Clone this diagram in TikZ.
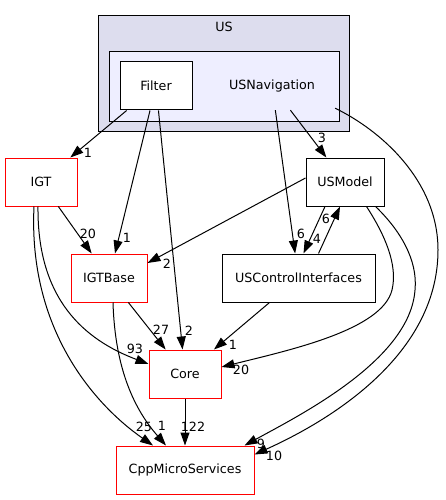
\documentclass[tikz,border=0pt]{standalone}
\usepackage{fontspec}
\setmainfont{DejaVu Sans}
\usepackage{xcolor}
\definecolor{usouter}{HTML}{DDDDEE}
\definecolor{usinner}{HTML}{EEEEFF}
\usetikzlibrary{arrows.meta}

\begin{document}
\begin{tikzpicture}[x=1pt, y=-1pt,
  every node/.style={font=\fontsize{12.7}{15}\selectfont},
  dirbox/.style={draw, fill=white, minimum height=48pt, inner sep=0pt, line width=1pt},
  reddir/.style={dirbox, draw=red},
  dep/.style={-{Triangle[length=13pt,width=9pt]}, line width=1pt},
  num/.style={inner sep=0pt}]
  \useasboundingbox (0,0) rectangle (446,500);

  % US and its subdirectories
  \draw[fill=usouter, line width=1pt] (98,16) rectangle (349,131);
  \node (uslabel) at (224,27) {US};
  \draw[fill=usinner, line width=1pt] (109,52) rectangle (339,121);
  \node[minimum width=72pt, minimum height=48pt, inner sep=0pt] (usnav) at (272,86) {USNavigation};
  \node[dirbox, minimum width=72pt] (filter) at (156,86) {Filter};

  % the other directories
  \node[reddir, minimum width=72pt] (igt) at (41,182) {IGT};
  \node[dirbox, minimum width=78pt] (usmodel) at (345,182) {USModel};
  \node[reddir, minimum width=76pt] (igtbase) at (109,278) {IGTBase};
  \node[dirbox, minimum width=153pt] (usci) at (298.5,278) {USControlInterfaces};
  \node[reddir, minimum width=72pt] (core) at (185,374) {Core};
  \node[reddir, minimum width=138pt] (cppms) at (185,470) {CppMicroServices};

  \path[dep] (filter) edge (igt);
  \path[dep] (filter) edge (igtbase);
  \path[dep] (filter) edge (core);
  \path[dep] (usnav) edge (usci);
  \path[dep] (usnav) edge (usmodel);
  \path[dep] (igt) edge (igtbase);
  \path[dep] (igtbase) edge (core);
  \path[dep] (usci) edge (core);
  \path[dep] (core) edge (cppms);
  \path[dep] ([yshift=4pt]usmodel.west) edge ([yshift=15pt]igtbase.east);
  \path[dep] ([xshift=-20pt]usmodel.south) edge ([xshift=5pt]usci.north);
  \path[dep] ([xshift=20pt]usci.north) edge ([xshift=-5pt]usmodel.south);

  \draw[dep] ([xshift=20pt,yshift=2pt]usnav.south east) .. controls (380,130) and (438,180) .. (438,250)
    .. controls (438,360) and (320,425) .. ([yshift=-9pt]cppms.north east);
  \draw[dep] ([xshift=-9pt]usmodel.south east) .. controls (400,230) and (418,260) .. (415,290)
    .. controls (410,360) and (300,415) .. ([xshift=-10pt]cppms.north east);
  \draw[dep] ([xshift=-18pt]usmodel.south east) .. controls (385,235) and (398,265) .. (392,290)
    .. controls (382,330) and (290,350) .. ([yshift=7pt]core.east);
  \draw[dep] ([xshift=-3pt]igt.south) .. controls (37,300) and (85,340) .. ([yshift=10pt]core.west);
  \draw[dep] ([xshift=-7pt]igt.south) .. controls (28,330) and (95,405) .. ([xshift=-32pt]cppms.north);
  \draw[dep] ([xshift=4pt]igtbase.south) .. controls (115,370) and (135,410) .. ([xshift=-19pt]cppms.north);

  % counts
  \node[num] (n1) at (88,153) {1};
  \node[num] (n2) at (88,234) {20};
  \node[num] (n3) at (127,238) {1};
  \node[num] (n4) at (167,264) {2};
  \node[num] (n5) at (301,234) {6};
  \node[num] (n6) at (317,239) {4};
  \node[num] (n7) at (326,219) {6};
  \node[num] (n8) at (322,138) {3};
  \node[num] (n9) at (161,330) {27};
  \node[num] (n10) at (189,331) {2};
  \node[num] (n11) at (233,345) {1};
  \node[num] (n12) at (135,349) {93};
  \node[num] (n13) at (241,370) {20};
  \node[num] (n14) at (144,427) {25};
  \node[num] (n15) at (162,426) {1};
  \node[num] (n16) at (193,427) {122};
  \node[num] (n17) at (261,444) {9};
  \node[num] (n18) at (274,456) {10};
\end{tikzpicture}
\end{document}
